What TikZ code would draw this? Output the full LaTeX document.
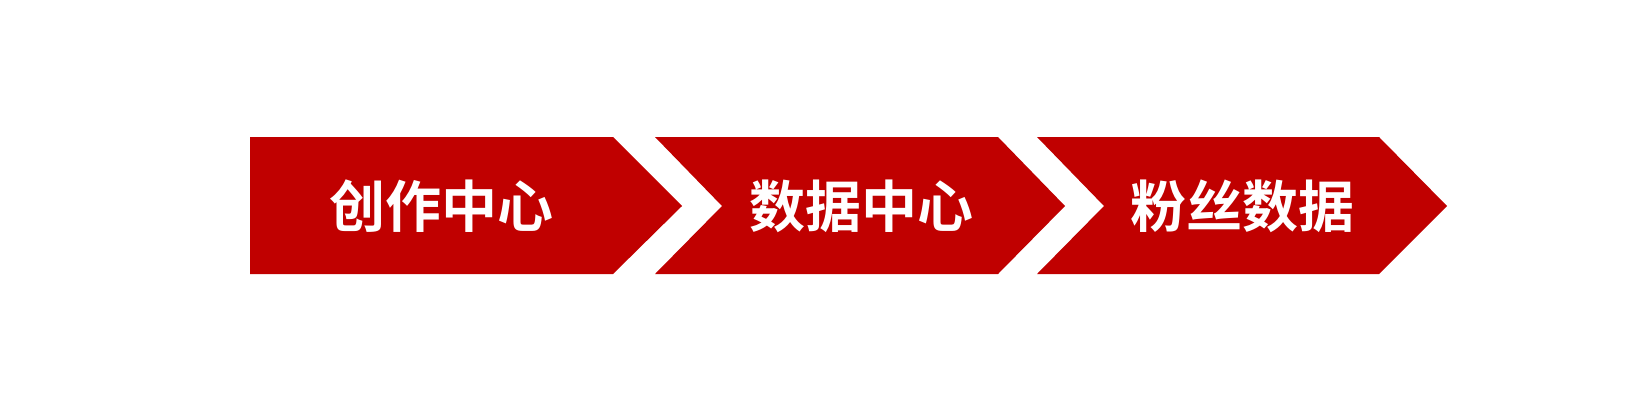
\documentclass[tikz,border=0pt]{standalone}
\usepackage{fontspec}
\newfontfamily\cjkbold{Noto Sans CJK SC Bold}
\definecolor{chevred}{HTML}{C00000}
\tikzset{
  chev/.style={fill=chevred},
  chevtext/.style={text=white,font=\cjkbold\fontsize{56}{60}\selectfont,inner sep=0pt}
}
\begin{document}
\begin{tikzpicture}[x=1pt,y=-1pt]
        \useasboundingbox (0,0) rectangle (1636,407);

        \fill[chev] (250,137) -- (613,137) -- (682,206) -- (613,274) -- (250,274) -- cycle;
        \fill[chev] (655,137) -- (998,137) -- (1065,206) -- (998,274) -- (655,274) -- (722,206) -- cycle;
        \fill[chev] (1037,137) -- (1379,137) -- (1447,206) -- (1379,274) -- (1037,274) -- (1104,206) -- cycle;

        \node[chevtext] (create) at (441,206) {创作中心};
        \node[chevtext] (datacenter) at (861,206) {数据中心};
        \node[chevtext] (fans) at (1242,206) {粉丝数据};
\end{tikzpicture}
\end{document}
